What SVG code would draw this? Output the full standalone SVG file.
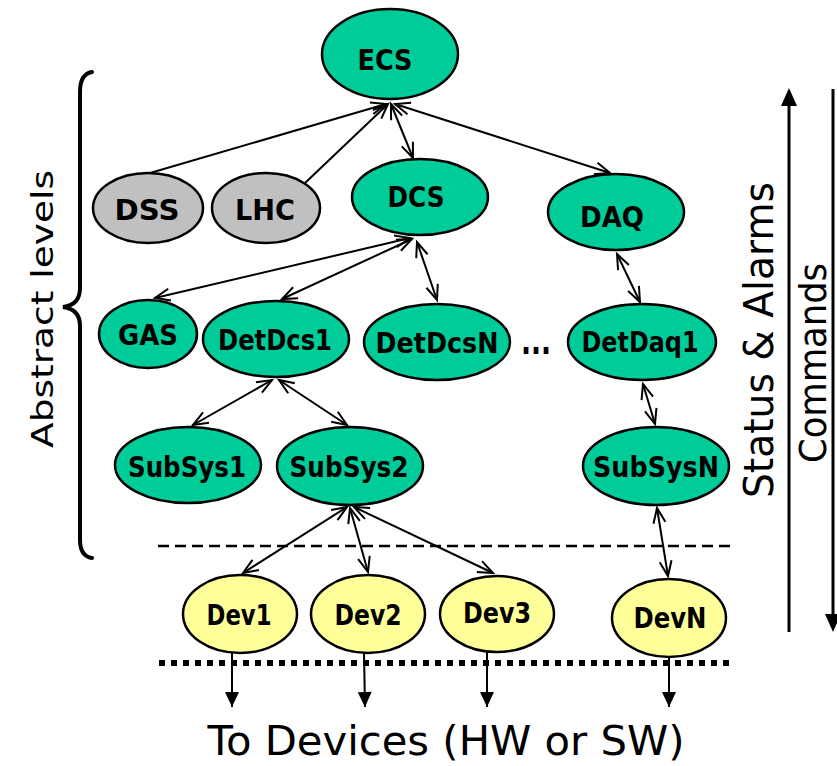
<svg xmlns="http://www.w3.org/2000/svg" width="837" height="766" viewBox="0 0 837 766">
  <style>
    .node ellipse { stroke: #000; stroke-width: 2.5; }
    .ctl ellipse { fill: #00CC99; }
    .ext ellipse { fill: #C0C0C0; }
    .dev ellipse { fill: #FFFF99; }
    .node text { font-family: "DejaVu Sans", "Liberation Sans", sans-serif; font-weight: bold; font-size: 28px; text-anchor: middle; fill: #000; }
    .link { stroke: #000; stroke-width: 2; fill: none; }
    .big { font-family: "DejaVu Sans", "Liberation Sans", sans-serif; fill: #000; text-anchor: middle; }
  </style>
  <defs>
    <marker id="open" markerUnits="userSpaceOnUse" orient="auto-start-reverse" overflow="visible" markerWidth="20" markerHeight="20" refX="0" refY="0">
      <path d="M-15,-6 L0,0 L-15,6" fill="none" stroke="#000" stroke-width="2"/>
    </marker>
    <marker id="solid" markerUnits="userSpaceOnUse" orient="auto" overflow="visible" markerWidth="20" markerHeight="20" refX="0" refY="0">
      <path d="M-15,-7 L0,0 L-15,7 Z" fill="#000"/>
    </marker>
  </defs>

  <!-- hierarchy connectors -->
  <g id="connectors">
    <line class="link" x1="150" y1="173" x2="386" y2="104" marker-end="url(#open)"/>
    <line class="link" x1="305" y1="183" x2="388" y2="104" marker-end="url(#open)"/>
    <line class="link" x1="391" y1="104" x2="413" y2="158" marker-start="url(#open)" marker-end="url(#open)"/>
    <line class="link" x1="395" y1="104" x2="610" y2="173" marker-start="url(#open)" marker-end="url(#open)"/>
    <line class="link" x1="410" y1="238" x2="155" y2="298" marker-start="url(#open)" marker-end="url(#open)"/>
    <line class="link" x1="412" y1="239" x2="282" y2="299" marker-start="url(#open)" marker-end="url(#open)"/>
    <line class="link" x1="417" y1="242" x2="437" y2="300" marker-start="url(#open)" marker-end="url(#open)"/>
    <line class="link" x1="617" y1="254" x2="640" y2="302" marker-start="url(#open)" marker-end="url(#open)"/>
    <line class="link" x1="643" y1="384" x2="655" y2="424" marker-start="url(#open)" marker-end="url(#open)"/>
    <line class="link" x1="272" y1="380" x2="193" y2="425" marker-start="url(#open)" marker-end="url(#open)"/>
    <line class="link" x1="279" y1="380" x2="347" y2="425" marker-start="url(#open)" marker-end="url(#open)"/>
    <line class="link" x1="347" y1="507" x2="243" y2="573" marker-start="url(#open)" marker-end="url(#open)"/>
    <line class="link" x1="350" y1="508" x2="368" y2="572" marker-start="url(#open)" marker-end="url(#open)"/>
    <line class="link" x1="354" y1="507" x2="493" y2="573" marker-start="url(#open)" marker-end="url(#open)"/>
    <line class="link" x1="657" y1="508" x2="668" y2="576" marker-start="url(#open)" marker-end="url(#open)"/>
    <!-- device outputs -->
    <line class="link" x1="232" y1="653" x2="232" y2="707" marker-end="url(#solid)"/>
    <line class="link" x1="364" y1="653" x2="365" y2="707" marker-end="url(#solid)"/>
    <line class="link" x1="487" y1="652" x2="487" y2="707" marker-end="url(#solid)"/>
    <line class="link" x1="669" y1="657" x2="669" y2="707" marker-end="url(#solid)"/>
  </g>

  <!-- level separators -->
  <line x1="158" y1="546" x2="730" y2="546" stroke="#000" stroke-width="2.5" stroke-dasharray="11 6"/>
  <line x1="159" y1="663" x2="730" y2="663" stroke="#000" stroke-width="6" stroke-dasharray="6 6"/>

  <!-- nodes -->
  <g id="ECS" class="node ctl"><ellipse cx="390" cy="54" rx="68" ry="45"/><text x="385" y="70" textLength="55" lengthAdjust="spacingAndGlyphs">ECS</text></g>
  <g id="DSS" class="node ext"><ellipse cx="148" cy="208" rx="55" ry="35"/><text x="147" y="220" textLength="65" lengthAdjust="spacingAndGlyphs">DSS</text></g>
  <g id="LHC" class="node ext"><ellipse cx="266" cy="208" rx="54" ry="35"/><text x="265" y="220" textLength="60" lengthAdjust="spacingAndGlyphs">LHC</text></g>
  <g id="DCS" class="node ctl"><ellipse cx="420" cy="197" rx="68" ry="38"/><text x="416" y="207" textLength="57" lengthAdjust="spacingAndGlyphs">DCS</text></g>
  <g id="DAQ" class="node ctl"><ellipse cx="616" cy="212" rx="68" ry="38"/><text x="612" y="227" textLength="64" lengthAdjust="spacingAndGlyphs">DAQ</text></g>
  <g id="GAS" class="node ctl"><ellipse cx="148" cy="334" rx="49" ry="34"/><text x="148" y="345" textLength="60" lengthAdjust="spacingAndGlyphs">GAS</text></g>
  <g id="DetDcs1" class="node ctl"><ellipse cx="276" cy="339" rx="73" ry="38"/><text x="275" y="350" textLength="114" lengthAdjust="spacingAndGlyphs">DetDcs1</text></g>
  <g id="DetDcsN" class="node ctl"><ellipse cx="437" cy="342" rx="73" ry="38"/><text x="437" y="353" textLength="123" lengthAdjust="spacingAndGlyphs">DetDcsN</text></g>
  <g id="DetDaq1" class="node ctl"><ellipse cx="642" cy="342" rx="74" ry="38"/><text x="640" y="352" textLength="117" lengthAdjust="spacingAndGlyphs">DetDaq1</text></g>
  <g id="SubSys1" class="node ctl"><ellipse cx="188" cy="465" rx="73" ry="38"/><text x="187" y="477" textLength="118" lengthAdjust="spacingAndGlyphs">SubSys1</text></g>
  <g id="SubSys2" class="node ctl"><ellipse cx="350" cy="466" rx="73" ry="39"/><text x="349" y="477" textLength="119" lengthAdjust="spacingAndGlyphs">SubSys2</text></g>
  <g id="SubSysN" class="node ctl"><ellipse cx="656" cy="466" rx="73" ry="39"/><text x="656" y="477" textLength="126" lengthAdjust="spacingAndGlyphs">SubSysN</text></g>
  <g id="Dev1" class="node dev"><ellipse cx="240" cy="614" rx="57" ry="39"/><text x="239" y="625" textLength="65" lengthAdjust="spacingAndGlyphs">Dev1</text></g>
  <g id="Dev2" class="node dev"><ellipse cx="368" cy="614" rx="57" ry="39"/><text x="368" y="625" textLength="67" lengthAdjust="spacingAndGlyphs">Dev2</text></g>
  <g id="Dev3" class="node dev"><ellipse cx="497" cy="614" rx="57" ry="38"/><text x="497" y="623" textLength="68" lengthAdjust="spacingAndGlyphs">Dev3</text></g>
  <g id="DevN" class="node dev"><ellipse cx="669" cy="618" rx="57" ry="39"/><text x="670" y="628" textLength="73" lengthAdjust="spacingAndGlyphs">DevN</text></g>

  <!-- ellipsis between detector branches -->
  <text x="536" y="354" font-family="DejaVu Sans, sans-serif" font-weight="bold" font-size="38" text-anchor="middle" textLength="30" lengthAdjust="spacingAndGlyphs">...</text>

  <!-- brace and side labels -->
  <path d="M92,72 Q80,74 80,92 L80,288 Q80,305 63,307 Q80,309 80,326 L80,540 Q80,556 92,558" fill="none" stroke="#000" stroke-width="4" stroke-linecap="round"/>
  <text class="big" font-size="30" transform="translate(53,309) rotate(-90)" textLength="278" lengthAdjust="spacingAndGlyphs">Abstract levels</text>
  <text class="big" font-size="40" transform="translate(773,340) rotate(-90)" textLength="316" lengthAdjust="spacingAndGlyphs">Status &amp; Alarms</text>
  <text class="big" font-size="38" transform="translate(826,363) rotate(-90)" textLength="200" lengthAdjust="spacingAndGlyphs">Commands</text>

  <!-- direction arrows -->
  <line x1="789" y1="104" x2="789" y2="632" stroke="#000" stroke-width="3"/>
  <polygon points="789,88 781,106 797,106" fill="#000"/>
  <line x1="833" y1="89" x2="833" y2="616" stroke="#000" stroke-width="3"/>
  <polygon points="825,614 841,614 833,632" fill="#000"/>

  <text class="big" font-size="40" x="446" y="755" textLength="477" lengthAdjust="spacingAndGlyphs">To Devices (HW or SW)</text>
</svg>
